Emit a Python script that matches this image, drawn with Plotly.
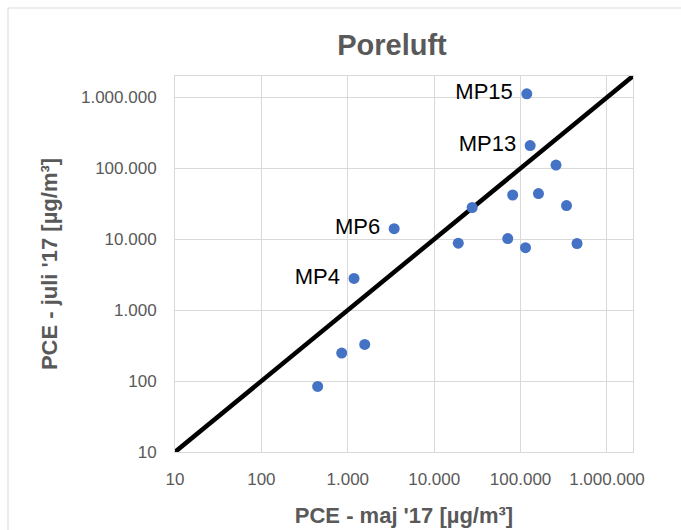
import plotly.graph_objects as go

# PCE concentrations in pore air per measuring point (µg/m³)
maj_17 = [118000, 129000, 257000, 81000, 161000, 340000, 27500, 3440, 19000, 71000, 114000, 450000, 1180, 1570, 850, 448]
juli_17 = [1120000, 209000, 111000, 42000, 44000, 29800, 28000, 14100, 8800, 10200, 7600, 8700, 2800, 329, 248, 84]
point_labels = ["MP15", "MP13", "", "", "", "", "", "MP6", "", "", "", "", "MP4", "", "", ""]

# 1:1 reference line across the full axis range
line_x = [10, 2000000]
line_y = [10, 2000000]

tick_vals = [10, 100, 1000, 10000, 100000, 1000000]
tick_text = ["10", "100", "1.000", "10.000", "100.000", "1.000.000"]

GREY = "#595959"
GRID = "#d9d9d9"
FONT = "Liberation Sans, Arial, sans-serif"

W, H = 681, 530
ML, MR, MT, MB = 175, 48, 76, 78
PW, PH = W - ML - MR, H - MT - MB


def px_to_paper_x(px):
    return (px - ML) / PW


def px_to_paper_y(py):
    return (H - MB - py) / PH


fig = go.Figure()

fig.add_trace(go.Scatter(
    x=line_x, y=line_y, mode="lines",
    line=dict(color="black", width=4.5),
    hoverinfo="skip", showlegend=False,
))

# a trailing non-breaking space keeps the labels clear of the markers
fig.add_trace(go.Scatter(
    x=maj_17, y=juli_17, mode="markers+text",
    text=[(t + "\u00a0") if t else "" for t in point_labels],
    textposition="middle left",
    textfont=dict(family=FONT, size=22, color="black"),
    marker=dict(color="#4472C4", size=11),
    showlegend=False,
))

axis_common = dict(
    type="log",
    range=[1, 6.30103],
    tickvals=tick_vals,
    ticktext=tick_text,
    tickfont=dict(family=FONT, size=17, color=GREY),
    showgrid=True,
    gridcolor=GRID,
    gridwidth=1,
    showline=True,
    linecolor=GRID,
    linewidth=1,
    mirror=True,
    ticks="",
    zeroline=False,
)

fig.update_xaxes(
    **axis_common,
    ticklabelstandoff=12,
    title=dict(text="PCE - maj '17 [µg/m³]", standoff=19,
               font=dict(family=FONT, size=22, color=GREY, weight="bold")),
)
fig.update_yaxes(
    **axis_common,
    ticklabelstandoff=14,
    title=dict(text="PCE - juli '17 [µg/m³]", standoff=17,
               font=dict(family=FONT, size=22, color=GREY, weight="bold")),
)

# outer chart frame
fig.add_shape(type="line", xref="paper", yref="paper",
              x0=px_to_paper_x(8), x1=px_to_paper_x(W), y0=px_to_paper_y(8), y1=px_to_paper_y(8),
              line=dict(color=GRID, width=1))
fig.add_shape(type="line", xref="paper", yref="paper",
              x0=px_to_paper_x(8), x1=px_to_paper_x(8), y0=px_to_paper_y(8), y1=px_to_paper_y(H),
              line=dict(color=GRID, width=1))

fig.update_layout(
    width=W, height=H,
    margin=dict(l=ML, r=MR, t=MT, b=MB, autoexpand=False),
    paper_bgcolor="white",
    plot_bgcolor="white",
    title=dict(text="<b>Poreluft</b>", x=392 / W, xanchor="center",
               y=1 - 45 / H, yanchor="middle",
               font=dict(family=FONT, size=29, color=GREY)),
)

fig.write_html("out.html")
